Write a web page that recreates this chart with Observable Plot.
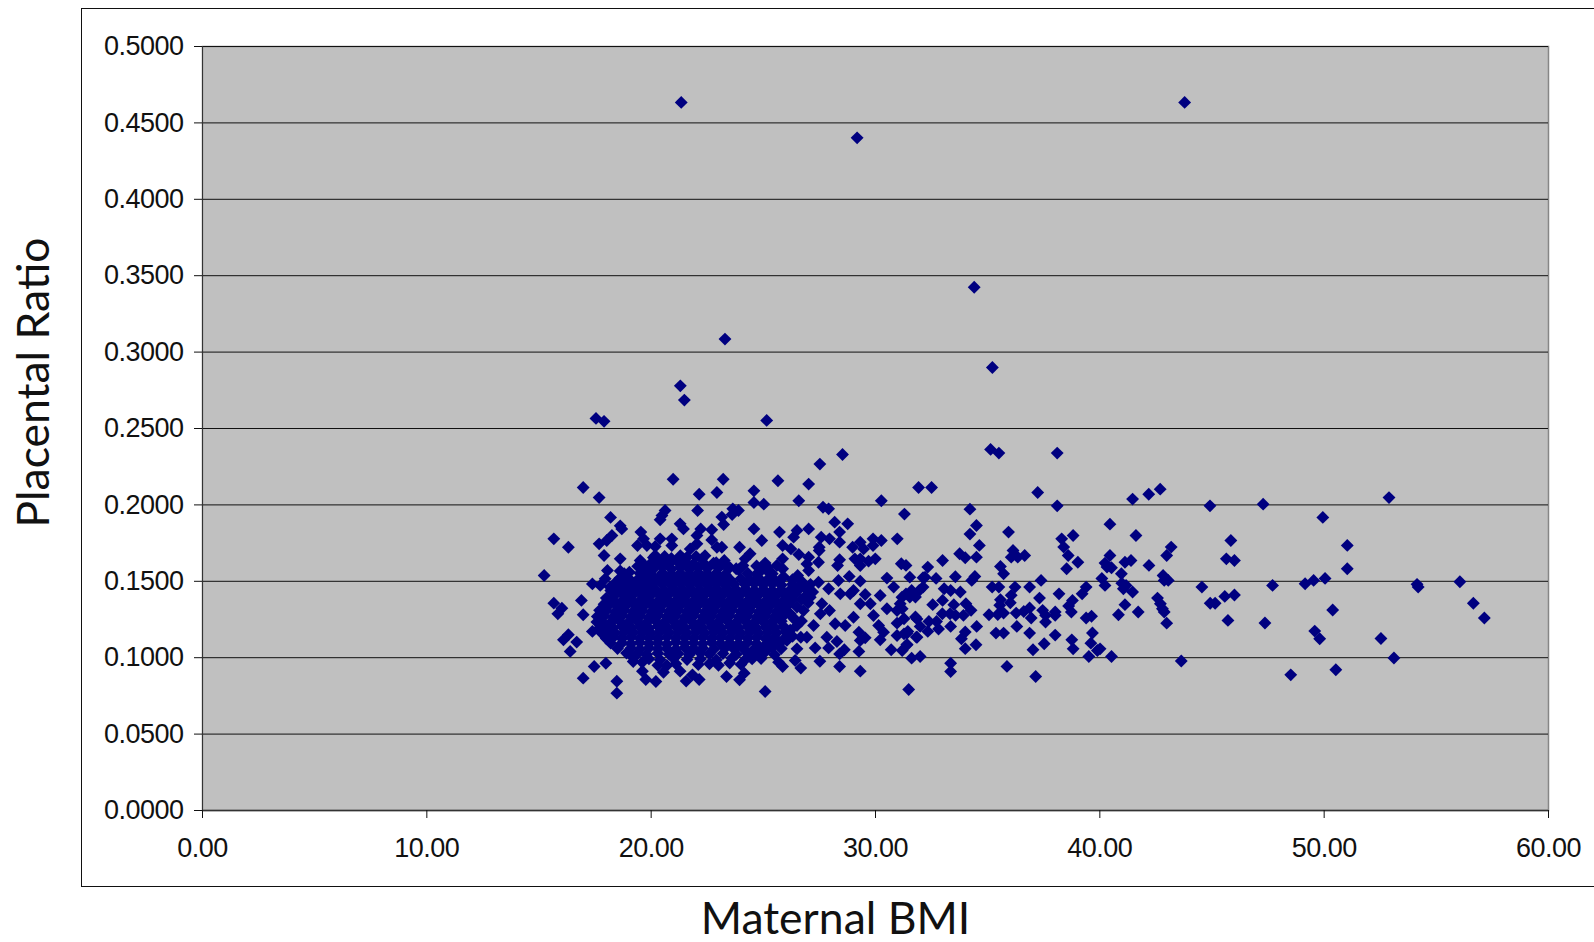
<!DOCTYPE html>
<html><head><meta charset="utf-8">
<script src="https://cdn.jsdelivr.net/npm/d3@7"></script>
<script src="https://cdn.jsdelivr.net/npm/@observablehq/plot@0.6"></script>
<style>
html,body{margin:0;padding:0;background:#fff;width:1594px;height:942px;overflow:hidden}
#frame{position:absolute;left:81px;top:8px;width:1700px;height:877px;border:1.5px solid #111;pointer-events:none}
#chart{position:absolute;left:0;top:0}
#chart g[aria-label$="tick label"] text{letter-spacing:-.5px}
</style></head><body><div id="chart"></div><div id="frame"></div>
<script>
const xTicks=[0,10,20,30,40,50,60];
const yTicks=[0,.05,.1,.15,.2,.25,.3,.35,.4,.45,.5];
const outliers=[[21.34,.4634],[43.78,.4634],[29.18,.4402],[34.40,.3424],[23.29,.3085],[35.21,.2899],[21.30,.2779],[21.48,.2686],[17.54,.2566],[17.90,.2547],[25.15,.2553],[35.13,.2363],[35.50,.2339],[38.10,.2339]];
const leftUpper=[[28.53,.2330],[27.52,.2267],[20.98,.2168],[23.21,.2168],[16.97,.2114],[25.65,.2158],[27.02,.2136],[22.14,.2070],[22.93,.2081],[24.58,.2092],[17.68,.2048],[26.58,.2027],[24.58,.2016],[25.02,.2005],[30.26,.2027],[20.62,.1963],[20.48,.1930],[20.40,.1902],[22.07,.1963],[23.64,.1974],[23.89,.1963],[23.61,.1937],[23.15,.1920],[23.23,.1872],[27.66,.1985],[27.91,.1974],[18.19,.1918],[18.62,.1863],[18.69,.1843],[28.18,.1887],[28.76,.1876],[28.40,.1822],[21.29,.1876],[21.44,.1843],[22.21,.1843],[22.70,.1837],[22.04,.1800],[24.58,.1843],[25.72,.1822],[26.50,.1833],[26.35,.1789],[27.02,.1843],[27.58,.1789],[27.95,.1778],[28.40,.1756],[30.97,.1778],[30.26,.1767],[29.89,.1778],[29.32,.1756],[29.47,.1712],[29.89,.1734],[28.98,.1723],[29.08,.1647],[29.32,.1603],[29.32,.1647],[29.69,.1632],[29.99,.1647],[15.66,.1778],[16.31,.1723],[15.23,.1538],[17.68,.1745],[18.02,.1767],[18.25,.1800],[17.90,.1669],[18.62,.1647],[19.54,.1822],[19.66,.1778],[19.39,.1734],[19.81,.1734],[20.18,.1728],[20.40,.1778],[20.92,.1778],[20.92,.1734],[22.04,.1745],[21.74,.1712],[22.70,.1771],[22.93,.1723],[23.15,.1723],[23.94,.1723],[24.93,.1767],[25.86,.1734],[26.23,.1712],[26.58,.1675],[27.49,.1723],[27.49,.1701],[24.41,.1680],[24.19,.1647],[24.09,.1603],[23.79,.1582],[25.08,.1619],[25.16,.1571],[23.26,.1636],[22.78,.1619],[22.26,.1647],[21.89,.1614],[21.44,.1647],[20.70,.1636],[20.18,.1669],[19.51,.1636],[19.66,.1582],[20.18,.1593],[18.05,.1571],[18.62,.1567],[19.03,.1560],[17.95,.1516],[17.38,.1483],[17.73,.1473],[18.17,.1462],[19.03,.1473],[25.86,.1647],[25.60,.1603],[25.86,.1582],[25.83,.1516],[26.53,.1538],[26.94,.1614],[27.02,.1658],[27.46,.1625],[27.02,.1571],[28.40,.1641],[28.31,.1603],[28.83,.1532],[28.35,.1505],[27.46,.1494],[29.32,.1501],[30.51,.1521],[30.81,.1462],[27.91,.1451]];
const leftLower=[[15.66,.1357],[16.02,.1324],[15.84,.1287],[16.89,.1375],[16.97,.1281],[17.58,.1233],[17.38,.1172],[16.31,.1150],[16.09,.1117],[16.68,.1102],[16.39,.1041],[17.46,.0942],[17.98,.0964],[16.97,.0866],[18.47,.0846],[18.47,.0768],[19.61,.0912],[19.76,.0857],[20.21,.0844],[20.55,.0905],[20.70,.0949],[21.29,.0912],[21.56,.0847],[21.84,.0888],[22.14,.0857],[23.36,.0877],[23.94,.0855],[24.15,.0899],[24.00,.0956],[25.08,.0779],[25.68,.0971],[25.86,.0942],[26.67,.0932],[26.42,.0982],[27.52,.0977],[28.40,.0942],[29.32,.0912],[29.26,.1041],[30.70,.1052],[28.40,.1025],[28.61,.1052],[27.91,.1064],[28.28,.1106],[27.31,.1064],[26.67,.1134],[26.50,.1058],[29.26,.1167],[29.54,.1130],[29.32,.1113],[30.21,.1117],[30.36,.1167],[30.14,.1211],[29.91,.1276],[29.77,.1353],[30.21,.1407],[29.54,.1414],[29.02,.1440],[29.32,.1353],[29.02,.1265],[28.65,.1211],[28.20,.1222],[27.95,.1309],[27.61,.1353],[27.54,.1287],[27.09,.1396],[28.43,.1418],[28.87,.1418],[30.96,.1309],[30.51,.1320],[30.96,.1226],[30.96,.1145],[26.79,.1309],[26.50,.1331],[26.20,.1287],[27.24,.1211],[26.94,.1134],[27.83,.1134],[26.05,.1113]];
const rightSide=[[31.92,.2114],[32.50,.2114],[37.23,.2081],[41.46,.2038],[42.18,.2070],[42.69,.2103],[52.89,.2048],[38.10,.1994],[44.91,.1994],[47.28,.2005],[34.21,.1972],[31.29,.1940],[49.94,.1918],[40.45,.1874],[34.50,.1865],[34.21,.1809],[35.93,.1822],[38.81,.1800],[38.30,.1778],[41.61,.1800],[34.63,.1735],[38.39,.1724],[43.18,.1724],[42.98,.1669],[51.03,.1735],[45.84,.1767],[36.13,.1702],[33.75,.1680],[34.00,.1654],[34.50,.1658],[36.05,.1658],[36.34,.1658],[36.65,.1669],[38.59,.1669],[40.45,.1669],[32.99,.1636],[39.02,.1625],[40.23,.1619],[41.12,.1625],[41.39,.1636],[45.64,.1647],[46.00,.1636],[42.19,.1604],[32.33,.1593],[35.57,.1597],[38.52,.1582],[40.32,.1593],[40.52,.1589],[51.03,.1582],[35.71,.1549],[40.96,.1549],[42.82,.1538],[33.56,.1530],[34.43,.1532],[32.70,.1519],[32.12,.1523],[34.29,.1506],[37.38,.1506],[40.09,.1519],[42.87,.1506],[43.05,.1506],[49.53,.1506],[50.04,.1519],[49.15,.1484],[47.70,.1473],[56.05,.1497],[54.14,.1480],[54.19,.1462],[44.55,.1462],[40.23,.1473],[40.98,.1488],[41.17,.1473],[41.05,.1451],[39.39,.1462],[39.21,.1418],[35.20,.1462],[35.50,.1462],[36.22,.1462],[36.87,.1462],[33.06,.1451],[33.35,.1440],[33.78,.1430],[38.18,.1418],[41.46,.1430],[45.57,.1401],[46.00,.1410],[44.92,.1356],[45.14,.1356],[56.65,.1356],[42.57,.1390],[42.70,.1353],[42.79,.1320],[42.87,.1299],[41.12,.1347],[41.71,.1299],[40.83,.1281],[50.38,.1312],[57.14,.1260],[45.71,.1244],[47.36,.1227],[42.98,.1226],[39.63,.1271],[39.39,.1260],[36.05,.1408],[35.57,.1380],[36.01,.1360],[35.54,.1343],[37.31,.1390],[38.78,.1375],[38.61,.1338],[38.73,.1299],[38.01,.1299],[38.01,.1277],[37.45,.1310],[37.58,.1277],[36.87,.1325],[36.61,.1302],[36.27,.1292],[35.71,.1292],[35.45,.1283],[35.06,.1281],[36.94,.1260],[37.58,.1233],[36.30,.1205],[34.51,.1205],[33.35,.1205],[32.55,.1347],[32.99,.1375],[33.49,.1347],[34.03,.1353],[34.26,.1310],[32.98,.1288],[33.32,.1288],[33.57,.1277],[33.92,.1277],[31.78,.1266],[32.38,.1237],[32.72,.1237],[31.99,.1205],[32.33,.1172],[32.81,.1188],[31.44,.1172],[31.82,.1135],[34.00,.1168],[33.83,.1124],[34.00,.1059],[34.48,.1085],[35.37,.1161],[35.71,.1161],[36.87,.1161],[38.01,.1148],[39.67,.1162],[38.75,.1117],[39.60,.1095],[37.52,.1091],[37.02,.1052],[38.81,.1058],[40.01,.1058],[39.89,.1047],[31.41,.1084],[31.61,.0997],[31.99,.1008],[39.51,.1008],[40.52,.1008],[33.35,.0964],[33.35,.0910],[35.86,.0943],[37.14,.0877],[31.48,.0792],[43.63,.0978],[48.51,.0888],[50.52,.0921],[53.11,.0998],[52.53,.1126],[49.58,.1174],[49.80,.1124],[31.19,.1047],[31.19,.1321],[31.27,.1255],[31.61,.1440],[31.78,.1397],[32.12,.1462],[31.53,.1527],[31.36,.1604],[31.15,.1615],[32.21,.1527],[31.95,.1440],[31.36,.1418],[31.53,.1397],[31.10,.1353],[31.27,.1156],[31.18,.1396],[31.85,.1254],[31.40,.1160],[31.85,.1134],[31.40,.1087]];
const coreUpper=[[19.8,.1588],[20.9,.1581],[21.3,.1590],[21.7,.1579],[22.1,.1592],[22.5,.1583],[23.0,.1587],[19.5,.1552],[20.0,.1546],[20.5,.1555],[20.9,.1548],[21.3,.1553],[21.7,.1545],[22.1,.1556],[22.5,.1549],[22.9,.1552],[23.3,.1544],[24.3,.1553],[24.7,.1547],[19.0,.1518],[19.4,.1511],[19.8,.1520],[20.3,.1512],[20.7,.1516],[21.1,.1509],[21.5,.1519],[21.9,.1513],[22.3,.1517],[22.7,.1510],[23.1,.1521],[23.5,.1514],[24.0,.1516],[24.4,.1511],[24.8,.1520],[25.2,.1512],[25.5,.1509],[18.8,.1482],[19.2,.1476],[19.6,.1485],[20.0,.1478],[20.5,.1483],[20.9,.1475],[21.3,.1486],[21.7,.1479],[22.1,.1482],[22.5,.1477],[22.9,.1484],[23.3,.1476],[23.7,.1481],[24.2,.1478],[24.6,.1485],[25.0,.1477],[25.4,.1483],[25.8,.1475],[26.3,.1480],[26.7,.1478],[18.6,.1447],[19.0,.1441],[19.4,.1449],[19.8,.1443],[20.2,.1446],[20.6,.1440],[21.0,.1451],[21.4,.1444],[21.8,.1447],[22.2,.1442],[22.6,.1449],[23.0,.1441],[23.4,.1446],[23.8,.1443],[24.2,.1450],[24.6,.1442],[25.0,.1448],[25.4,.1440],[25.8,.1445],[26.2,.1443],[26.6,.1449],[18.4,.1412],[18.8,.1406],[19.2,.1414],[19.6,.1408],[20.0,.1411],[20.4,.1405],[20.8,.1416],[21.2,.1409],[21.6,.1412],[22.0,.1407],[22.4,.1414],[22.8,.1406],[23.2,.1411],[23.6,.1408],[24.0,.1415],[24.4,.1407],[24.8,.1413],[25.2,.1405],[25.6,.1410],[26.0,.1408],[26.4,.1414],[26.9,.1406]];
const coreMiddle=[[18.3,.1377],[18.7,.1371],[19.1,.1379],[19.5,.1373],[19.9,.1376],[20.3,.1370],[20.7,.1381],[21.1,.1374],[21.5,.1377],[21.9,.1372],[22.3,.1379],[22.7,.1371],[23.1,.1376],[23.5,.1373],[23.9,.1380],[24.3,.1372],[24.7,.1378],[25.1,.1370],[25.5,.1375],[25.9,.1373],[26.3,.1379],[18.1,.1342],[18.5,.1336],[18.9,.1344],[19.3,.1338],[19.7,.1341],[20.1,.1335],[20.5,.1346],[20.9,.1339],[21.3,.1342],[21.7,.1337],[22.1,.1344],[22.5,.1336],[22.9,.1341],[23.3,.1338],[23.7,.1345],[24.1,.1337],[24.5,.1343],[24.9,.1335],[25.3,.1340],[25.7,.1338],[26.1,.1344],[18.0,.1307],[18.4,.1301],[18.8,.1309],[19.2,.1303],[19.6,.1306],[20.0,.1300],[20.4,.1311],[20.8,.1304],[21.2,.1307],[21.6,.1302],[22.0,.1309],[22.4,.1301],[22.8,.1306],[23.2,.1303],[23.6,.1310],[24.0,.1302],[24.4,.1308],[24.8,.1300],[25.2,.1305],[25.6,.1303],[25.9,.1309],[17.9,.1272],[18.3,.1266],[18.7,.1274],[19.1,.1268],[19.5,.1271],[19.9,.1265],[20.3,.1276],[20.7,.1269],[21.1,.1272],[21.5,.1267],[21.9,.1274],[22.3,.1266],[22.7,.1271],[23.1,.1268],[23.5,.1275],[23.9,.1267],[24.3,.1273],[24.7,.1265],[25.1,.1270],[25.5,.1268],[25.9,.1274],[26.3,.1267],[17.8,.1237],[18.2,.1231],[18.6,.1239],[19.0,.1233],[19.4,.1236],[19.8,.1230],[20.2,.1241],[20.6,.1234],[21.0,.1237],[21.4,.1232],[21.8,.1239],[22.2,.1231],[22.6,.1236],[23.0,.1233],[23.4,.1240],[23.8,.1232],[24.2,.1238],[24.6,.1230],[25.0,.1235],[25.4,.1233],[25.8,.1239]];
const coreLower=[[17.9,.1202],[18.3,.1196],[18.7,.1204],[19.1,.1198],[19.5,.1201],[19.9,.1195],[20.3,.1206],[20.7,.1199],[21.1,.1202],[21.5,.1197],[21.9,.1204],[22.3,.1196],[22.7,.1201],[23.1,.1198],[23.5,.1205],[23.9,.1197],[24.3,.1203],[24.7,.1195],[25.1,.1200],[25.5,.1198],[25.9,.1204],[18.0,.1167],[18.4,.1161],[18.8,.1169],[19.2,.1163],[19.6,.1166],[20.0,.1160],[20.4,.1171],[20.8,.1164],[21.2,.1167],[21.6,.1162],[22.0,.1169],[22.4,.1161],[22.8,.1166],[23.2,.1163],[23.6,.1170],[24.0,.1162],[24.4,.1168],[24.8,.1160],[25.2,.1165],[25.6,.1163],[18.3,.1132],[18.7,.1126],[19.1,.1134],[19.5,.1128],[19.9,.1131],[20.3,.1125],[20.7,.1136],[21.1,.1129],[21.5,.1132],[21.9,.1127],[22.3,.1134],[22.7,.1126],[23.1,.1131],[23.5,.1128],[23.9,.1135],[24.3,.1127],[24.7,.1133],[25.1,.1125],[25.5,.1130],[18.7,.1097],[19.1,.1091],[19.5,.1099],[19.9,.1093],[20.3,.1096],[20.7,.1090],[21.1,.1101],[21.5,.1094],[21.9,.1097],[22.3,.1092],[22.7,.1099],[23.1,.1091],[23.5,.1096],[23.9,.1093],[24.3,.1100],[24.7,.1092],[25.2,.1098],[19.1,.1062],[19.5,.1056],[19.9,.1064],[20.3,.1058],[20.7,.1061],[21.1,.1055],[21.5,.1066],[21.9,.1059],[22.3,.1062],[22.8,.1057],[23.3,.1064],[23.7,.1056],[24.1,.1061],[24.6,.1058],[25.0,.1063],[19.4,.1027],[19.8,.1021],[20.3,.1029],[20.8,.1023],[21.2,.1026],[21.7,.1020],[22.2,.1031],[22.6,.1024],[23.2,.1027],[23.8,.1022],[24.3,.1029],[24.8,.1021],[19.9,.0992],[20.4,.0986],[21.0,.0994],[21.6,.0988],[22.2,.0991],[22.9,.0985],[23.6,.0996],[24.2,.0989],[24.5,.0992]];
const coreEdges=[[19.6,.1620],[19.95,.1612],[20.4,.1624],[20.8,.1616],[21.2,.1625],[21.6,.1618],[22.4,.1610],[22.9,.1622],[23.3,.1605],[19.4,.1598],[20.5,.1595],[23.5,.1590],[23.9,.1576],[20.1,.1655],[20.6,.1662],[20.9,.1650],[21.3,.1668],[21.6,.1658],[22.0,.1662],[22.4,.1668],[25.2,.1590],[24.7,.1600],[24.9,.1570],[25.4,.1550],[25.9,.1530],[26.3,.1510],[26.7,.1500],[27.1,.1480],[26.9,.1450],[27.2,.1430],[27.0,.1360],[26.7,.1380],[26.4,.1250],[26.7,.1240],[26.5,.1210],[26.2,.1180],[26.0,.1170],[26.3,.1140],[25.9,.1120],[25.7,.1100],[25.4,.1070],[25.8,.1060],[25.1,.1040],[25.5,.1020],[24.9,.0995],[17.7,.1195],[17.8,.1160],[18.0,.1125],[18.2,.1095],[18.5,.1060],[18.9,.1030],[19.2,.1000],[17.6,.1270],[17.7,.1310],[17.9,.1350],[18.0,.1390],[18.2,.1440],[18.4,.1490],[18.6,.1520],[18.8,.1550],[19.6,.0970],[20.3,.0950],[21.1,.0960],[22.1,.0955],[22.6,.0960],[23.0,.0950],[23.5,.0965],[19.2,.0975]];

const points=[...outliers,...leftUpper,...leftLower,...rightSide,...coreUpper,...coreMiddle,...coreLower,...coreEdges].map(([bmi,ratio])=>({bmi,ratio}));

const tickFont='"Liberation Sans",Arial,sans-serif';
const titleFont='Lato,"Open Sans",sans-serif';

const chart=Plot.plot({
  width:1594,height:942,
  marginLeft:202,marginRight:46,marginTop:46,marginBottom:132,
  style:{background:"#fff",overflow:"visible"},
  x:{domain:[0,60]},
  y:{domain:[0,.5]},
  marks:[
    Plot.frame({fill:"#c0c0c0",stroke:"#868686",strokeWidth:1.5}),
    Plot.ruleY(yTicks,{stroke:"#111",strokeWidth:1}),
    Plot.ruleX([0],{stroke:"#333",strokeWidth:1}),
    Plot.ruleY([0],{stroke:"#333",strokeWidth:1.5}),
    Plot.axisY({ticks:yTicks,tickFormat:d3.format(".4f"),tickSize:8,tickPadding:11,label:null,fontSize:27,fontFamily:tickFont,color:"#111",stroke:"#111",textStroke:"none"}),
    Plot.axisX({ticks:xTicks,tickFormat:d3.format(".2f"),tickSize:8,tickPadding:19,label:null,fontSize:27,fontFamily:tickFont,color:"#111",stroke:"#111",textStroke:"none"}),
    Plot.dot(points,{x:"bmi",y:"ratio",symbol:"diamond2",r:5.8,fill:"#000080"}),
    Plot.text(["Maternal BMI"],{frameAnchor:"bottom",dx:-40,dy:123,fontSize:44.5,fontFamily:titleFont,fill:"#111"}),
    Plot.text(["Placental Ratio"],{frameAnchor:"left",textAnchor:"middle",rotate:-90,dx:-168,dy:-46,fontSize:44.5,fontFamily:titleFont,fill:"#111"})
  ]
});
document.getElementById("chart").appendChild(chart);
</script></body></html>
